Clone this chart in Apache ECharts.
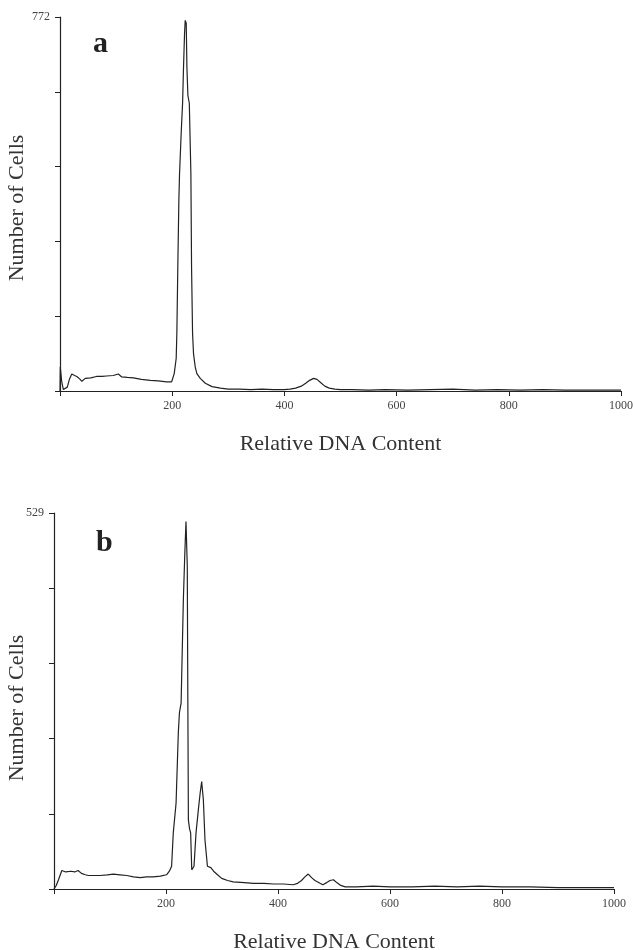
<!DOCTYPE html>
<html>
<head>
<meta charset="utf-8">
<script src="https://cdn.jsdelivr.net/npm/echarts@6/dist/echarts.min.js"></script>
<style>
html,body{margin:0;padding:0;background:#fff;}
#chart{width:633px;height:950px;}
</style>
</head>
<body>
<div id="chart"></div>
<script>
// Panel a: [relative DNA content, number of cells]
const histA = [
  [0,0],[0.5,50],[3,20],[6,3],[9,2],[13,8],[17,25],[21,35],[26,32],[30,30],[35,25],[39,20],
  [45,26],[55,27],[65,30],[68,34],[75,30],[83,31],[95,32],[104,35],[110,29],[120,28],[131,27],
  [145,24],[161,22],[175,21],[190,19],[199,19],[201.2,23],[203.6,36],[207.1,67],[208.3,119],
  [210,256],[211.9,394],[213.1,449],[216,532],[218.5,594],[220.2,669],[222,738],[223.2,765],
  [225,759],[226.2,669],[228,610],[230.5,594],[233.3,449],[234.5,256],[236.3,119],[238,77],
  [241,50],[244,36],[250,26],[259,16],[271,9],[286,6],[300,4],[320,4],[340,3],[360,4],[380,3],
  [400,3],[410,4],[420,6],[430,10],[438,16],[445,22],[452,26],[458,24],[465,17],[472,10],
  [480,6],[490,4],[500,3],[520,3],[550,2],[580,3],[620,2],[660,3],[700,4],[740,2],[780,3],
  [820,2],[860,3],[900,2],[940,2],[980,2],[1000,2]
];
// Panel b: [relative DNA content, number of cells]
const histB = [
  [0,0],[4,5],[8,13],[14,26],[21,24],[30,25],[37,24],[43,26],[49,22],[56,20],[61,19],[70,19],
  [82,19],[95,20],[106,21],[118,20],[130,19],[142,17],[154,16],[165,17],[177,17],[190,18],
  [201,20],[206,25],[210,32],[213,79],[218,121],[222,220],[224,248],[227,262],[231,407],
  [233.5,470],[235.7,517],[238,454],[239,266],[240,97],[242,85],[244,79],[246,27],[248,28],
  [250,32],[253.6,79],[257.7,111],[261,135],[263.7,151],[266.7,126],[269.6,69],[274,32],
  [280,30],[285,25],[292,20],[299.5,15],[310,12],[320,10],[340,9],[356,8],[375,8],[392,7],
  [410,7],[427,6],[435,8],[442,12],[448,17],[454,21],[460,16],[466,12],[475,8],[480,6],
  [487,9],[493,12],[499,13],[505,9],[512,5],[520,3],[540,3],[570,4],[600,3],[640,3],[680,4],
  [720,3],[760,4],[800,3],[850,3],[900,2],[950,2],[1000,2]
];
const maxA = 772;
const maxB = 529;
const xTicks = [200, 400, 600, 800, 1000];
const xLabel = 'Relative DNA Content';
const yLabel = 'Number of Cells';
const panelLabels = ['a', 'b'];

const FONT = '"Liberation Serif", "Times New Roman", serif';
const INK = '#222';

function xAxisCfg(gridIndex) {
  return {
    type: 'value', gridIndex: gridIndex, min: 0, max: 1000, interval: 200,
    name: xLabel, nameLocation: 'middle', nameGap: 42,
    nameTextStyle: {fontFamily: FONT, fontSize: 22, color: '#333'},
    axisLine: {show: true, lineStyle: {color: INK, width: 1.2}},
    axisTick: {show: true, length: 5, lineStyle: {color: INK}},
    axisLabel: {
      fontFamily: FONT, fontSize: 12, color: '#444', margin: 9,
      formatter: v => (xTicks.indexOf(v) >= 0 ? String(v) : '')
    },
    splitLine: {show: false}
  };
}
function yAxisCfg(gridIndex, max) {
  return {
    type: 'value', gridIndex: gridIndex, min: 0, max: max, interval: max / 5,
    axisLine: {show: true, lineStyle: {color: INK, width: 1.2}},
    axisTick: {show: true, length: 5, lineStyle: {color: INK}},
    axisLabel: {
      fontFamily: FONT, fontSize: 12, color: '#444', margin: 10,
      formatter: v => (Math.abs(v - max) < 0.01 ? String(max) : '')
    },
    splitLine: {show: false}
  };
}
function yTitle(cx, cy) {
  return {
    type: 'text', x: cx, y: cy, rotation: Math.PI / 2,
    style: {text: yLabel, font: '22px ' + FONT, fill: '#333',
            textAlign: 'center', textVerticalAlign: 'middle'}
  };
}

const chart = echarts.init(document.getElementById('chart'), null, {renderer: 'canvas'});
chart.setOption({
  animation: false,
  backgroundColor: '#fff',
  grid: [
    {left: 60, top: 17, width: 561, height: 374, containLabel: false, outerBoundsMode: 'none'},
    {left: 54, top: 513, width: 560, height: 376, containLabel: false, outerBoundsMode: 'none'}
  ],
  xAxis: [xAxisCfg(0), xAxisCfg(1)],
  yAxis: [yAxisCfg(0, maxA), yAxisCfg(1, maxB)],
  graphic: [
    yTitle(17, 208),
    yTitle(17, 708),
    {type: 'text', left: 93, top: 29, style: {text: panelLabels[0], font: 'bold 30px ' + FONT, fill: '#222'}},
    {type: 'text', left: 96, top: 528, style: {text: panelLabels[1], font: 'bold 30px ' + FONT, fill: '#222'}}
  ],
  series: [
    {type: 'line', xAxisIndex: 0, yAxisIndex: 0, data: histA, showSymbol: false,
     lineStyle: {color: INK, width: 1.2}},
    {type: 'line', xAxisIndex: 1, yAxisIndex: 1, data: histB, showSymbol: false,
     lineStyle: {color: INK, width: 1.2}}
  ]
});
</script>
</body>
</html>
